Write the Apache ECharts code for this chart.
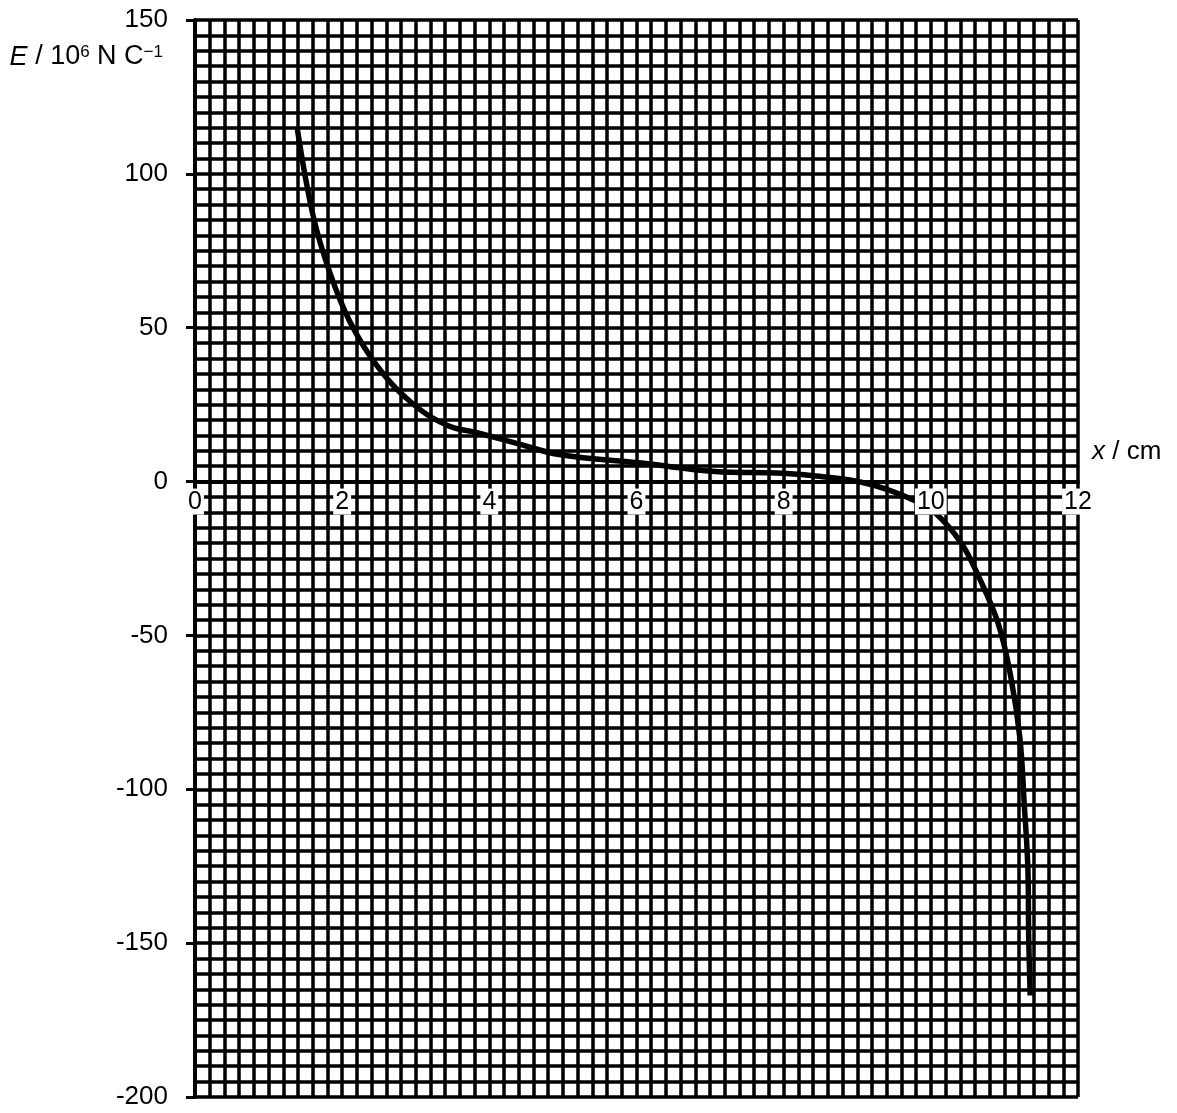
<!DOCTYPE html>
<html>
<head>
<meta charset="utf-8">
<title>E against x</title>
<script src="https://cdn.jsdelivr.net/npm/echarts@6/dist/echarts.min.js"></script>
<style>
  html, body { margin: 0; padding: 0; background: #fff; }
  #chart { width: 1177px; height: 1113px; }
</style>
</head>
<body>
<div id="chart"></div>
<script>
// x in cm, E in 10^6 N C^-1
const xValues = [1.39, 1.61, 1.84, 2.10, 2.46, 2.92, 3.41, 3.86, 4.36, 4.97, 6.07, 7.07, 7.99,
  8.90, 9.36, 9.81, 10.04, 10.40, 10.66, 10.92, 11.09, 11.21, 11.27, 11.32, 11.33, 11.35];
const eValues = [114.7, 85.9, 67.4, 52.2, 38.1, 26.1, 18.5, 15.7, 12.5, 8.7, 6.0, 3.3, 2.7,
  0.5, -2.2, -6.5, -9.7, -19.5, -31.4, -46.5, -63.9, -83.3, -105, -126.6, -148, -167];

// axis ranges / ticks
const xMin = 0, xMax = 12, xStep = 2;
const yMin = -200, yMax = 150, yStep = 50;

const font = '"Liberation Sans", Arial, sans-serif';

const gridTop = 20, gridBottom = 16;
const plotHeight = 1113 - gridTop - gridBottom;
// the label axis sits on E = 0, inside the plot (ECharts keeps labels at the edge otherwise)
const zeroOffset = -plotHeight * (0 - yMin) / (yMax - yMin);

const chart = echarts.init(document.getElementById('chart'));

const gridLine = { color: '#000', width: 3.5 };

const option = {
  animation: false,
  backgroundColor: '#fff',
  grid: { left: 195, right: 99, top: gridTop, bottom: gridBottom },
  xAxis: [
    {
      // graph paper + zero line
      type: 'value',
      min: xMin, max: xMax, interval: xStep,
      z: 0,
      axisLine: { show: true, onZero: true, lineStyle: { color: '#000', width: 4 } },
      axisTick: { show: false },
      axisLabel: { show: false },
      minorTick: { show: false, splitNumber: 10 },
      splitLine: { show: true, lineStyle: gridLine },
      minorSplitLine: { show: true, lineStyle: gridLine },
      name: '{i|x} / cm',
      nameLocation: 'end',
      nameGap: 14,
      nameTextStyle: {
        color: '#000', fontSize: 26, fontFamily: font,
        align: 'left', verticalAlign: 'bottom', padding: [0, 0, 17, 0],
        rich: { i: { fontStyle: 'italic', fontSize: 26, fontFamily: font, color: '#000' } }
      }
    },
    {
      // labels in white boxes, drawn over the curve
      type: 'value',
      min: xMin, max: xMax, interval: xStep,
      position: 'bottom',
      offset: zeroOffset,
      z: 10,
      axisLine: { show: false, onZero: false },
      axisTick: { show: false },
      splitLine: { show: false },
      axisLabel: {
        show: true, margin: 7, color: '#000', fontSize: 25, fontFamily: font,
        backgroundColor: '#fff', padding: [1, 2, 0, 2]
      }
    }
  ],
  yAxis: {
    type: 'value',
    min: yMin, max: yMax, interval: yStep,
    axisLine: { show: true, lineStyle: { color: '#000', width: 4 } },
    axisTick: { show: true, inside: false, length: 9, lineStyle: { color: '#000', width: 3 } },
    axisLabel: { margin: 27, color: '#000', fontSize: 26, fontFamily: font },
    minorTick: { show: false, splitNumber: 10 },
    splitLine: { show: true, lineStyle: gridLine },
    minorSplitLine: { show: true, lineStyle: gridLine },
    name: '{i|E} / 10{s|6} N C{s|\u22121}',
    nameLocation: 'end',
    nameGap: -37,
    nameTextStyle: {
      color: '#000', fontSize: 27, fontFamily: font,
      align: 'right', verticalAlign: 'middle', padding: [0, 32, 0, 0],
      rich: {
        i: { fontStyle: 'italic', fontSize: 27, fontFamily: font, color: '#000' },
        s: { fontSize: 17, fontFamily: font, color: '#000', verticalAlign: 'top' }
      }
    }
  },
  series: [
    {
      type: 'line',
      xAxisIndex: 0,
      showSymbol: false,
      smooth: 0.4,
      lineStyle: { color: '#000', width: 5.5 },
      data: xValues.map((x, i) => [x, eValues[i]])
    }
  ]
};

chart.setOption(option);
</script>
</body>
</html>
